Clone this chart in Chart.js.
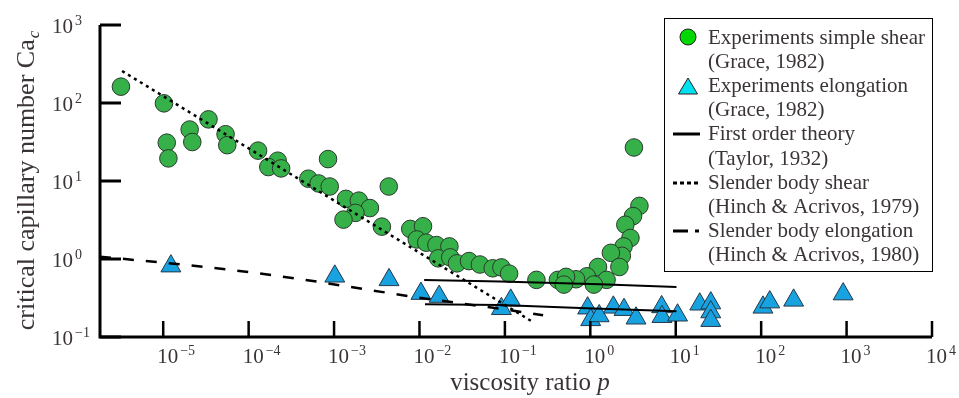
<!DOCTYPE html>
<html lang="en">
<head>
    <meta charset="UTF-8">
    <title>Critical capillary number vs viscosity ratio</title>
    <style>
        body {
            margin: 0;
            padding: 0;
            background: #fff;
            overflow: hidden;
        }
        canvas {
            display: block;
        }
    </style>
</head>
<body>
    <canvas id="plot" width="959" height="398"></canvas>

    <script src="https://cdn.jsdelivr.net/npm/chart.js"></script>
    <script>
        // values (p, Ca_c)
        const shearP = [3.2e-6, 1.02e-5, 1.1e-5, 1.15e-5, 2.04e-5, 2.19e-5, 3.39e-5, 5.37e-5, 5.62e-5, 1.29e-4,
            2.19e-4, 1.7e-4, 2.4e-4, 8.5e-4, 5.0e-4, 6.6e-4, 8.9e-4, 1.38e-3, 1.95e-3, 2.63e-3,
            1.78e-3, 1.29e-3, 4.37e-3, 3.63e-3, 7.8e-3, 1.1e-2, 9.3e-3, 1.2e-2, 1.58e-2, 2.24e-2,
            1.66e-2, 2.29e-2, 2.75e-2, 3.8e-2, 5.1e-2, 7.2e-2, 9.1e-2, 0.112, 0.234, 0.417,
            3.24, 3.76, 3.16, 2.57, 2.95, 2.45, 2.34, 1.74, 2.19, 1.23,
            1.55, 0.91, 1.10, 0.68, 0.52, 0.49];
        const shearCa = [162, 99, 31, 19.5, 45.7, 31.6, 61.7, 39.8, 28.8, 24.5,
            18.2, 15.1, 14.5, 19.1, 10.7, 9.3, 8.5, 5.9, 5.6, 4.5,
            3.9, 3.2, 8.5, 2.6, 2.43, 2.63, 1.78, 1.62, 1.51, 1.45,
            1.02, 1.05, 0.88, 0.94, 0.85, 0.76, 0.78, 0.65, 0.54, 0.54,
            26.9, 4.8, 3.55, 2.75, 1.86, 1.45, 1.10, 1.20, 0.79, 0.79,
            0.54, 0.60, 0.47, 0.55, 0.59, 0.47];

        const elongP = [1.23e-5, 1.02e-3, 4.4e-3, 1.04e-2, 1.7e-2, 9.1e-2, 0.117, 0.93, 1.01, 1.27,
            1.86, 2.48, 3.43, 6.84, 6.9, 10.5, 19.1, 25.7, 25.7, 25.7,
            105, 126, 240, 912];
        const elongCa = [0.81, 0.60, 0.54, 0.36, 0.33, 0.23, 0.295, 0.234, 0.166, 0.186,
            0.24, 0.224, 0.174, 0.243, 0.182, 0.19, 0.263, 0.272, 0.209, 0.162,
            0.24, 0.28, 0.295, 0.355];

        const taylorShearP = [0.01135, 0.088, 1.30, 10.2];
        const taylorShearCa = [0.537, 0.513, 0.473, 0.437];
        const taylorElongP = [0.0116, 0.088, 0.91, 10.2];
        const taylorElongCa = [0.263, 0.257, 0.234, 0.214];

        const slenderShearP = [3.3e-6, 0.214];
        const slenderShearCa = [257, 0.155];
        const slenderElongP = [1.82e-6, 1.9e-5, 1.2e-4, 6.3e-4, 7.8e-3, 0.105, 0.28];
        const slenderElongCa = [1.07, 0.84, 0.667, 0.513, 0.331, 0.224, 0.19];

        const xTickExps = [-5, -4, -3, -2, -1, 0, 1, 2, 3, 4];
        const yTickExps = [-1, 0, 1, 2, 3];

        const legendLines = [
            'Experiments simple shear', '(Grace, 1982)',
            'Experiments elongation', '(Grace, 1982)',
            'First order theory', '(Taylor, 1932)',
            'Slender body shear', '(Hinch & Acrivos, 1979)',
            'Slender body elongation', '(Hinch & Acrivos, 1980)'
        ];

        const SERIF = '"Liberation Serif", "DejaVu Serif", serif';
        const TEXT = '#3a3438';

        function pts(xs, ys) {
            return xs.map((v, i) => ({ x: v, y: ys[i] }));
        }

        function lineSet(xs, ys, dash, width) {
            return {
                data: pts(xs, ys),
                showLine: true,
                borderColor: '#000',
                borderWidth: width,
                borderDash: dash,
                pointRadius: 0,
                fill: false,
                tension: 0
            };
        }

        function supText(e) {
            return e < 0 ? '\u2212' + Math.abs(e) : String(e);
        }

        // axes, tick labels, titles and legend are drawn here
        const frame = {
            id: 'frame',
            afterDraw(chart) {
                const ctx = chart.ctx;
                const xs = chart.scales.x;
                const ys = chart.scales.y;
                const a = chart.chartArea;
                ctx.save();
                ctx.strokeStyle = '#000';
                ctx.lineCap = 'butt';

                // axis lines
                ctx.lineWidth = 3;
                ctx.beginPath();
                ctx.moveTo(a.left, a.top);
                ctx.lineTo(a.left, a.bottom);
                ctx.lineTo(a.right, a.bottom);
                ctx.stroke();

                // y ticks
                yTickExps.forEach(e => {
                    const py = ys.getPixelForValue(Math.pow(10, e));
                    ctx.beginPath();
                    ctx.moveTo(a.left, py);
                    ctx.lineTo(a.left + 21, py);
                    ctx.stroke();
                });
                // x ticks
                ctx.lineWidth = 2.5;
                xTickExps.forEach(e => {
                    const px = xs.getPixelForValue(Math.pow(10, e));
                    ctx.beginPath();
                    ctx.moveTo(px, a.bottom);
                    ctx.lineTo(px, a.bottom - 16);
                    ctx.stroke();
                });

                ctx.fillStyle = TEXT;
                ctx.textAlign = 'left';
                ctx.textBaseline = 'alphabetic';

                // x tick labels
                xTickExps.forEach(e => {
                    const px = xs.getPixelForValue(Math.pow(10, e));
                    ctx.font = '21px ' + SERIF;
                    ctx.fillText('10', px - 6, a.bottom + 26);
                    const w = ctx.measureText('10').width;
                    ctx.font = '14px ' + SERIF;
                    ctx.fillText(supText(e), px - 6 + w + 2, a.bottom + 18);
                });
                // y tick labels
                yTickExps.forEach(e => {
                    const py = ys.getPixelForValue(Math.pow(10, e));
                    ctx.font = '21px ' + SERIF;
                    ctx.fillText('10', 52, py + 8);
                    const w = ctx.measureText('10').width;
                    ctx.font = '14px ' + SERIF;
                    ctx.fillText(supText(e), 52 + w + 2, py);
                });

                // x title
                ctx.font = '25px ' + SERIF;
                const t1 = 'viscosity ratio ';
                const w1 = ctx.measureText(t1).width;
                ctx.font = 'italic 25px ' + SERIF;
                const w2 = ctx.measureText('p').width;
                let sx = 530 - (w1 + w2) / 2;
                ctx.font = '25px ' + SERIF;
                ctx.fillText(t1, sx, 390);
                ctx.font = 'italic 25px ' + SERIF;
                ctx.fillText('p', sx + w1, 390);

                // y title
                ctx.save();
                ctx.translate(34, (a.top + a.bottom) / 2);
                ctx.rotate(-Math.PI / 2);
                ctx.font = '26px ' + SERIF;
                const m = 'critical capillary number Ca';
                const wm = ctx.measureText(m).width;
                ctx.font = 'italic 17px ' + SERIF;
                const ws = ctx.measureText('c').width;
                const s0 = -(wm + ws) / 2;
                ctx.font = '26px ' + SERIF;
                ctx.fillText(m, s0, 0);
                ctx.font = 'italic 17px ' + SERIF;
                ctx.fillText('c', s0 + wm + 1, 5);
                ctx.restore();

                // legend box
                const bx = 664, by = 18, bw = 268, bh = 253;
                ctx.fillStyle = '#fff';
                ctx.fillRect(bx, by, bw, bh);
                ctx.lineWidth = 1;
                ctx.strokeStyle = '#000';
                ctx.strokeRect(bx + 0.5, by + 0.5, bw, bh);

                // legend markers
                ctx.lineWidth = 1;
                ctx.strokeStyle = '#222';
                ctx.fillStyle = '#00d800';
                ctx.beginPath();
                ctx.arc(688, 37, 8, 0, Math.PI * 2);
                ctx.fill();
                ctx.stroke();

                ctx.fillStyle = '#00e2f2';
                ctx.beginPath();
                ctx.moveTo(688, 78);
                ctx.lineTo(697.5, 94);
                ctx.lineTo(678.5, 94);
                ctx.closePath();
                ctx.fill();
                ctx.stroke();

                ctx.strokeStyle = '#000';
                ctx.lineWidth = 3;
                ctx.beginPath();
                ctx.moveTo(673, 134);
                ctx.lineTo(700, 134);
                ctx.stroke();

                ctx.setLineDash([4, 3]);
                ctx.beginPath();
                ctx.moveTo(673, 183);
                ctx.lineTo(700, 183);
                ctx.stroke();

                ctx.setLineDash([15, 7, 4, 60]);
                ctx.beginPath();
                ctx.moveTo(673, 231);
                ctx.lineTo(700, 231);
                ctx.stroke();
                ctx.setLineDash([]);

                // legend text
                ctx.fillStyle = TEXT;
                ctx.font = '21px ' + SERIF;
                legendLines.forEach((t, i) => {
                    ctx.fillText(t, 708, 44 + i * 24.1);
                });

                ctx.restore();
            }
        };

        const ctx = document.getElementById('plot').getContext('2d');
        new Chart(ctx, {
            type: 'scatter',
            data: {
                datasets: [
                    lineSet(taylorShearP, taylorShearCa, [], 2),
                    lineSet(taylorElongP, taylorElongCa, [], 2),
                    lineSet(slenderShearP, slenderShearCa, [3, 4], 2.5),
                    lineSet(slenderElongP, slenderElongCa, [11, 12], 2.5),
                    {
                        data: pts(shearP, shearCa),
                        pointStyle: 'circle',
                        pointRadius: 8.8,
                        backgroundColor: '#36b048',
                        borderColor: '#2b3a2e',
                        borderWidth: 1
                    },
                    {
                        data: pts(elongP, elongCa),
                        pointStyle: 'triangle',
                        pointRadius: 11.5,
                        backgroundColor: '#19a2e0',
                        borderColor: '#24384a',
                        borderWidth: 1
                    }
                ]
            },
            options: {
                responsive: false,
                animation: false,
                devicePixelRatio: 1,
                layout: {
                    padding: { left: 100, right: 27, top: 25, bottom: 61 }
                },
                scales: {
                    x: {
                        type: 'logarithmic',
                        display: false,
                        min: Math.pow(10, -5.74),
                        max: 1e4
                    },
                    y: {
                        type: 'logarithmic',
                        display: false,
                        min: 0.1,
                        max: 1000
                    }
                },
                plugins: {
                    legend: { display: false },
                    tooltip: { enabled: false }
                },
                clip: false
            },
            plugins: [frame]
        });
    </script>
</body>
</html>
